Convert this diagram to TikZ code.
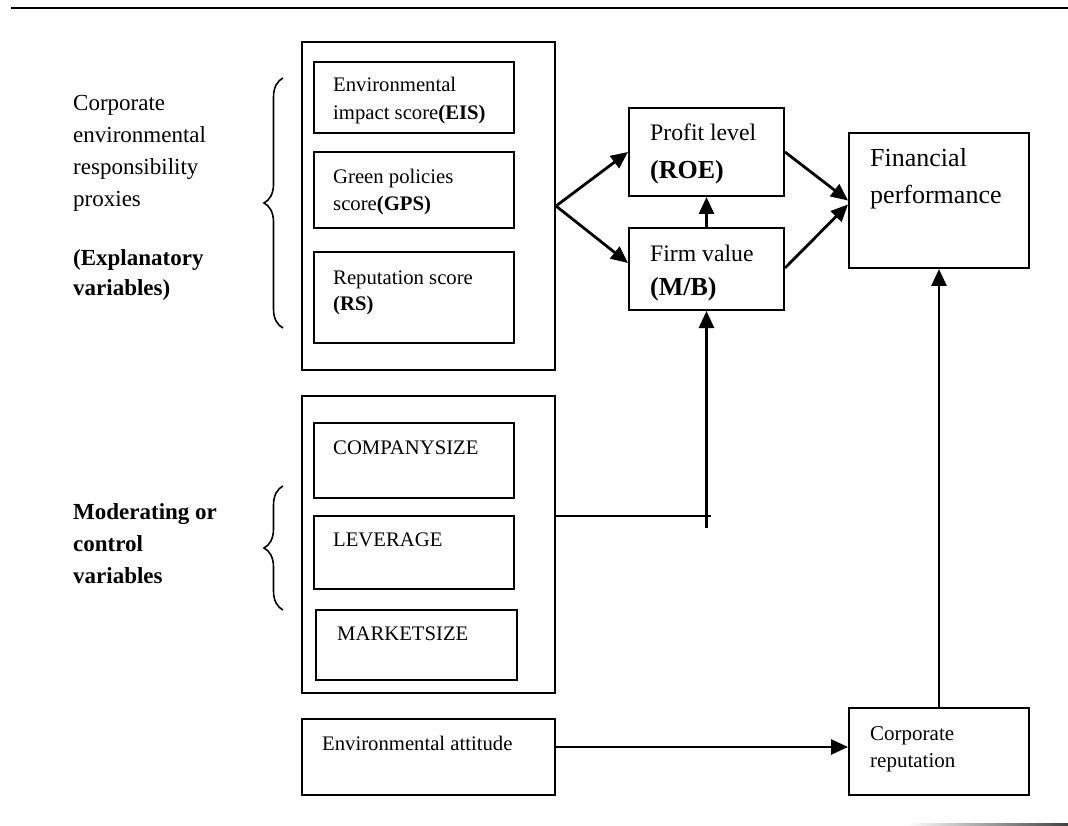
\documentclass[tikz,border=0pt]{standalone}
\usepackage{fontspec}
\setmainfont{Liberation Serif}
\usetikzlibrary{arrows.meta,decorations.pathreplacing,calc}
\tikzset{
  box/.style={draw, line width=2pt, inner sep=0pt},
  arr/.style={line width=2.8pt, -{Triangle[length=17pt,width=15pt]}},
  ln/.style={line width=2.2pt},
  txt/.style={anchor=base west, inner sep=0pt},
  fs/.style={font=\fontsize{20.7}{26}\selectfont},
  fm/.style={font=\fontsize{23}{28}\selectfont},
  fmb/.style={font=\fontsize{23}{28}\selectfont\bfseries},
  fl/.style={font=\fontsize{23.7}{28}\selectfont},
  flb/.style={font=\fontsize{26}{30}\selectfont\bfseries},
  fx/.style={font=\fontsize{26}{30}\selectfont},
  fc/.style={font=\fontsize{21}{26}\selectfont},
  brc/.style={line width=1.6pt, decorate, decoration={brace, amplitude=19pt}},
}
\begin{document}
\begin{tikzpicture}[x=1pt,y=-1pt]
\useasboundingbox (0,0) rectangle (1068,826);
% top rule and bottom fading rule
\draw[line width=2.4pt] (11,8) -- (1068,8);
\shade[left color=white, right color=black!75] (907,823.5) rectangle (1068,826);

% boxes
\node[box, minimum width=253pt, minimum height=328pt] (expl) at (428.5,206) {};
\node[box, minimum width=200pt, minimum height=71pt] (eis) at (414,97.5) {};
\node[box, minimum width=200pt, minimum height=76pt] (gps) at (414,190) {};
\node[box, minimum width=200pt, minimum height=91pt] (rs) at (414,297.5) {};
\node[box, minimum width=155pt, minimum height=88pt] (profit) at (706.5,152) {};
\node[box, minimum width=155pt, minimum height=82pt] (firm) at (706.5,269) {};
\node[box, minimum width=180pt, minimum height=135pt] (fin) at (939,200.5) {};
\node[box, minimum width=253pt, minimum height=297pt] (ctrl) at (428.5,544.5) {};
\node[box, minimum width=200pt, minimum height=75pt] (comp) at (414,460.5) {};
\node[box, minimum width=200pt, minimum height=73pt] (lev) at (414,552.5) {};
\node[box, minimum width=201pt, minimum height=70pt] (mkt) at (416.5,645) {};
\node[box, minimum width=253pt, minimum height=76pt] (env) at (428.5,757) {};
\node[box, minimum width=180pt, minimum height=87pt] (corp) at (939,751.5) {};

% left texts
\node[txt, fm] (l1a) at (73,111) {Corporate};
\node[txt, fm] (l1b) at (73,143) {environmental};
\node[txt, fm] (l1c) at (73,175) {responsibility};
\node[txt, fm] (l1d) at (73,207) {proxies};
\node[txt, fmb] (l1e) at (73,266) {(Explanatory};
\node[txt, fmb] (l1f) at (73,296) {variables)};
\node[txt, fmb] (l2a) at (73,519) {Moderating or};
\node[txt, fmb] (l2b) at (73,551) {control};
\node[txt, fmb] (l2c) at (73,583) {variables};

% braces
\draw[brc] (283,328) -- (283,78);
\draw[brc] (283,610) -- (283,486);

% box texts
\node[txt, fs] (eisa) at (333,92) {Environmental};
\node[txt, fs] (eisb) at (333,120) {impact score\textbf{(EIS)}};
\node[txt, fs] (gpsa) at (333,184) {Green policies};
\node[txt, fs] (gpsb) at (333,211) {score\textbf{(GPS)}};
\node[txt, fs] (rsa) at (333,284) {Reputation score};
\node[txt, fs] (rsb) at (333,311) {\textbf{(RS)}};
\node[txt, fl] (pra) at (650,141) {Profit level};
\node[txt, flb] (prb) at (650,179) {(ROE)};
\node[txt, fl] (fva) at (650,262) {Firm value};
\node[txt, flb] (fvb) at (650,296) {(M/B)};
\node[txt, fx] (fpa) at (870,167) {Financial};
\node[txt, fx] (fpb) at (870,204) {performance};
\node[txt, fs] (compt) at (333,454) {COMPANYSIZE};
\node[txt, fs] (levt) at (333,546) {LEVERAGE};
\node[txt, fs] (mktt) at (337,640) {MARKETSIZE};
\node[txt, fs] (envt) at (322,750) {Environmental attitude};
\node[txt, fc] (cra) at (870,740) {Corporate};
\node[txt, fc] (crb) at (870,767) {reputation};

% connectors
\draw[arr] (expl.east) -- (profit.west);
\draw[arr] (expl.east) -- ([yshift=6pt]firm.west);
\draw[arr] (firm.north) -- (profit.south);
\draw[arr] (profit.east) -- (fin.west);
\draw[arr] ([yshift=1pt]firm.east) -- ([yshift=-4pt]fin.west);
\draw[arr] (corp.north) -- (fin.south);
\draw[arr] ([yshift=10pt]env.east) -- ([yshift=10pt]env.east -| corp.west);
\coordinate (tick) at (711,516);
\coordinate (vbot) at (706.5,528);
\draw[ln] (ctrl.east |- tick) -- (tick);
\draw[arr] (vbot) -- (firm.south);
\end{tikzpicture}
\end{document}
